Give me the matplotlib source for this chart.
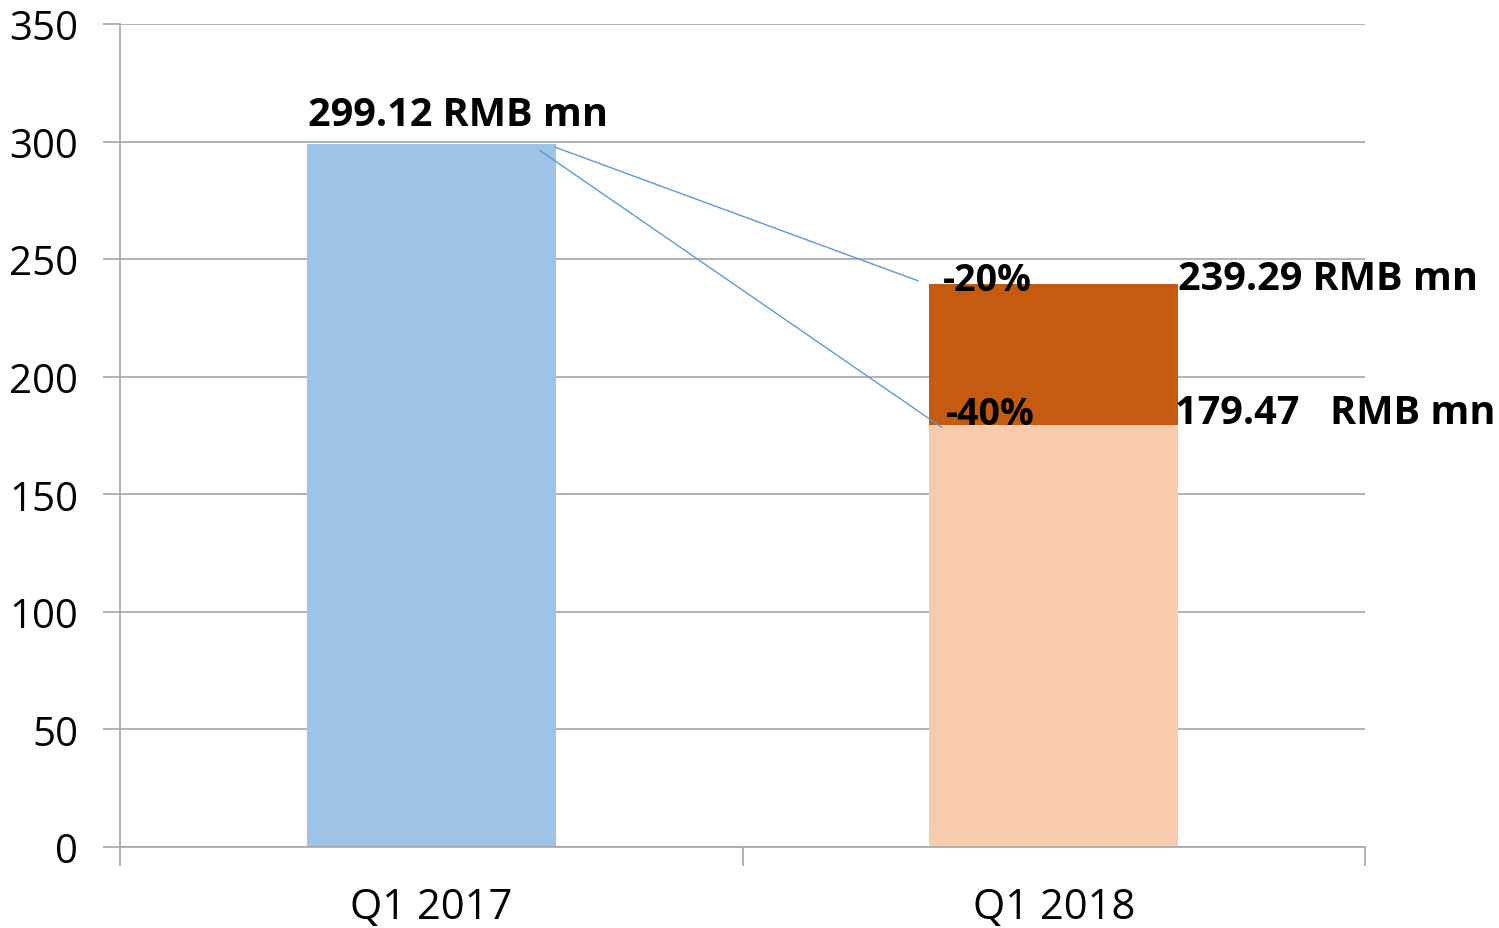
import numpy as np
from matplotlib import pyplot as plt

categories = ['Q1 2017', 'Q1 2018']
value_2017 = 299.12
value_2018 = 239.29
value_2018_target = 179.47
pct_labels = ['-20%', '-40%']

plt.rcParams['font.family'] = ['Open Sans', 'DejaVu Sans']

fig = plt.figure(figsize=(14.99, 9.29), dpi=100)
ax = fig.add_axes([120 / 1499, 1 - 848 / 929, 1245 / 1499, 823 / 929])

x = np.arange(len(categories))
width = 0.4
ax.bar(x[0], value_2017, width, color='#9DC3E6', zorder=2)
ax.bar(x[1], value_2018_target, width, color='#F8CBAD', zorder=2)
ax.bar(x[1], value_2018 - value_2018_target, width, bottom=value_2018_target,
       color='#C55A11', zorder=2)

ax.set_xlim(-0.5, 1.5)
ax.set_ylim(0, 350)
ax.set_yticks(np.arange(0, 351, 50))
ax.grid(axis='y', color='#A6A6A6', linewidth=1.2, zorder=0)

ax.set_xticks(x)
ax.set_xticklabels(categories)
ax.set_xticks([-0.5, 0.5, 1.5], minor=True)
ax.tick_params(axis='x', which='major', length=0, pad=28, labelsize=30)
ax.tick_params(axis='x', which='minor', length=14, color='#A6A6A6', width=1.2)
ax.tick_params(axis='y', length=12, color='#A6A6A6', width=1.2, labelsize=29, pad=18)

for side in ['top', 'right']:
    ax.spines[side].set_visible(False)
for side in ['left', 'bottom']:
    ax.spines[side].set_color('#A6A6A6')
    ax.spines[side].set_linewidth(1.2)

# value labels
ax.text(0.043, value_2017 + 12.5, '%.2f RMB mn' % value_2017, ha='center', va='center',
        fontsize=28.5, fontweight='bold')
ax.text(1.200, value_2018 + 2.5, '%.2f RMB mn' % value_2018, ha='left', va='center',
        fontsize=28.5, fontweight='bold')
ax.text(1.195, value_2018_target + 5.5, '%.2f   RMB mn' % value_2018_target, ha='left', va='center',
        fontsize=28.5, fontweight='bold')

# connector lines and percentages
ax.plot([0.199, 0.782], [value_2017 - 1.5, value_2018 + 1.5], color='#5B9BD5', linewidth=1, zorder=3)
ax.plot([0.175, 0.820], [value_2017 - 3, value_2018_target - 1], color='#5B9BD5', linewidth=1, zorder=3)
ax.text(0.822, value_2018 + 2, pct_labels[0], ha='left', va='center',
        fontsize=27, fontweight='bold', zorder=4)
ax.text(0.827, value_2018_target + 4.5, pct_labels[1], ha='left', va='center',
        fontsize=27, fontweight='bold', zorder=4)

fig.savefig('out.png', dpi=100)
